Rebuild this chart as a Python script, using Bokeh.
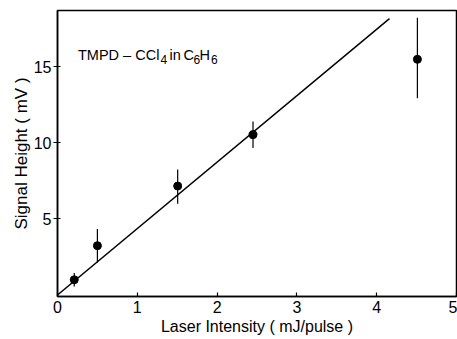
from bokeh.plotting import figure
from bokeh.models import Label
from bokeh.embed import file_html
from bokeh.resources import INLINE

# data
intensity = [0.21, 0.50, 1.506, 2.45, 4.51]
signal = [1.0, 3.24, 7.16, 10.54, 15.49]
err_lo = [0.45, 1.1, 1.16, 0.88, 2.56]
err_hi = [0.45, 1.09, 1.09, 0.87, 2.74]
fit_x = [0.0, 4.16]
fit_y = [0.0, 18.17]
x_ticks = [0, 1, 2, 3, 4, 5]
y_ticks = [5, 10, 15]

FONT = "Liberation Sans"

p = figure(width=457, height=339, output_backend="svg", toolbar_location=None,
           x_range=(0, 5.0), y_range=(-0.1, 18.7),
           min_border_left=57, min_border_right=1, min_border_top=10, min_border_bottom=43)
p.background_fill_color = "white"
p.border_fill_color = "white"
p.grid.visible = False
p.outline_line_color = "black"
p.outline_line_width = 1.5

lower = [s - e for s, e in zip(signal, err_lo)]
upper = [s + e for s, e in zip(signal, err_hi)]
p.segment(x0=intensity, y0=lower, x1=intensity, y1=upper, line_color="black", line_width=1.2)
p.line(fit_x, fit_y, line_color="black", line_width=1.5)
p.scatter(intensity, signal, size=8, color="black")

for ax in (p.xaxis, p.yaxis):
    ax.axis_line_width = 1.5
    ax.axis_line_color = "black"
    ax.major_tick_line_color = "black"
    ax.major_tick_line_width = 1.2
    ax.minor_tick_line_color = None
    ax.major_label_text_font = FONT
    ax.major_label_text_font_size = "16px"
    ax.major_label_text_color = "black"
    ax.axis_label_text_font = FONT
    ax.axis_label_text_font_style = "normal"
    ax.axis_label_text_color = "black"

p.xaxis.ticker = x_ticks
p.yaxis.ticker = y_ticks
p.xaxis.major_tick_in = 4
p.xaxis.major_tick_out = 0
p.xaxis.major_label_standoff = 4
p.xaxis.axis_label = "Laser Intensity ( mJ/pulse )"
p.xaxis.axis_label_text_font_size = "16px"
p.xaxis.axis_label_standoff = 2
p.yaxis.major_tick_in = 3
p.yaxis.major_tick_out = 4
p.yaxis.major_label_standoff = 2
p.yaxis.axis_label = "Signal Height ( mV )"
p.yaxis.axis_label_text_font_size = "17px"
p.yaxis.axis_label_standoff = 0

# annotation: TMPD – CCl4 in C6H6
pieces = [
    ("TMPD \u2013 CCl", 0.257, 15.77, "14.5px"),
    ("4", 1.29, 15.49, "12px"),
    ("in", 1.405, 15.77, "14.5px"),
    ("C", 1.58, 15.77, "14.5px"),
    ("6", 1.704, 15.49, "12px"),
    ("H", 1.78, 15.77, "14.5px"),
    ("6", 1.924, 15.49, "12px"),
]
for t, x, y, fs in pieces:
    p.add_layout(Label(x=x, y=y, text=t, text_font=FONT, text_font_size=fs,
                       text_color="black", text_baseline="alphabetic", text_align="left"))

open("out.html", "w").write(file_html(p, INLINE))
